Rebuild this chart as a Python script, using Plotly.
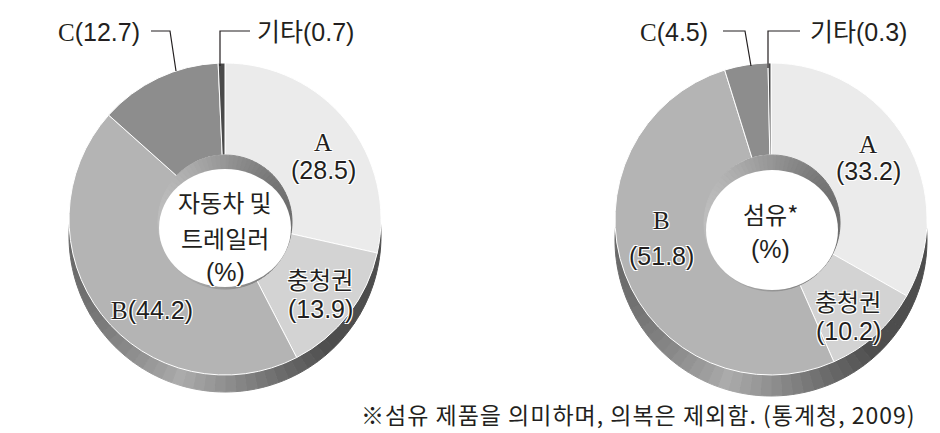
import math
import plotly.graph_objects as go

# ---------------- data ----------------
categories = ["A", "충청권", "B", "C", "기타"]
auto_values = [28.5, 13.9, 44.2, 12.7, 0.7]      # 자동차 및 트레일러
fiber_values = [33.2, 10.2, 51.8, 4.5, 0.3]      # 섬유*
auto_title = ["자동차 및", "트레일러", "(%)"]
fiber_title = ["섬유*", "(%)"]
footnote = "※섬유 제품을 의미하며, 의복은 제외함. (통계청, 2009)"

slice_colors = ["#ebebeb", "#d3d3d3", "#b4b4b4", "#8d8d8d", "#4a4a4a"]

W, H = 940, 433
KFONT = "Noto Sans CJK KR"
LFONT = "Liberation Sans, Noto Sans CJK KR"
SERIF = "Liberation Serif"
INK = "#231f20"
HALO = "1px 1px 0 #fff, -1px -1px 0 #fff, 1px -1px 0 #fff, -1px 1px 0 #fff"


def dom(cx, cy, r):
    return dict(x=[(cx - r) / W, (cx + r) / W], y=[(H - cy - r) / H, (H - cy + r) / H])


def px(x, y):
    return x / W, 1 - y / H


def grad_colors(n, fn):
    cols = []
    for i in range(n):
        th = (i + 0.5) / n * 2 * math.pi
        g = int(max(0, min(255, fn(math.sin(th)))))
        cols.append(f"rgb({g},{g},{g})")
    return cols


def side_fn(s):
    return 172 - 95 * min(1.0, abs(s + 0.3))


def wall_fn(s):
    return 150 - 40 * s


NSEG = 90
side_cols = grad_colors(NSEG, side_fn)
wall_cols = grad_colors(NSEG, wall_fn)
fig = go.Figure()

charts = [
    dict(values=auto_values, cx=217, cy=211, r=156, side=17,
         wall_c=(217, 214), wall_r=67, floor=(151, 283, 161, 279)),
    dict(values=fiber_values, cx=763, cy=211, r=156, side=21,
         wall_c=(764, 215), wall_r=68, floor=(698, 830, 162, 282)),
]

shapes = []

for ch in charts:
    # 3D side (thickness), shifted down behind the face
    fig.add_trace(go.Pie(values=[1] * NSEG, sort=False, direction="clockwise",
                         marker=dict(colors=side_cols, line=dict(color=side_cols, width=1)),
                         textinfo="none", hoverinfo="skip", showlegend=False,
                         domain=dom(ch["cx"], ch["cy"] + ch["side"], ch["r"])))
    # main donut
    fig.add_trace(go.Pie(labels=categories, values=ch["values"], sort=False,
                         direction="clockwise", hole=0.41,
                         marker=dict(colors=slice_colors, line=dict(color="white", width=1)),
                         textinfo="none", hoverinfo="label+value", showlegend=False,
                         domain=dom(ch["cx"], ch["cy"], ch["r"])))
    # inner wall of the hole
    fig.add_trace(go.Pie(values=[1] * NSEG, sort=False, direction="clockwise",
                         marker=dict(colors=wall_cols, line=dict(color=wall_cols, width=1)),
                         textinfo="none", hoverinfo="skip", showlegend=False,
                         domain=dom(ch["wall_c"][0], ch["wall_c"][1], ch["wall_r"])))
    # white floor of the hole (ellipse)
    x0, x1, y0, y1 = ch["floor"]
    X0, Y0 = px(x0, y0)
    X1, Y1 = px(x1, y1)
    shapes.append(dict(type="circle", xref="paper", yref="paper", x0=X0, x1=X1, y0=Y1, y1=Y0,
                       fillcolor="white", line=dict(width=0), layer="above"))

annotations = []


def ann(text, x, y, size=25, family=LFONT, xanchor="center"):
    ax, ay = px(x, y)
    annotations.append(dict(text=text, x=ax, y=ay, xref="paper", yref="paper",
                            xanchor=xanchor, yanchor="middle", showarrow=False,
                            font=dict(family=family, size=size, color=INK, shadow=HALO)))


def serif(t):
    return f"<span style='font-family:{SERIF}'>{t}</span>"


def leader(points):
    path = ""
    for i, (x, y) in enumerate(points):
        X, Y = px(x, y)
        path += ("M" if i == 0 else "L") + f"{X},{Y} "
    shapes.append(dict(type="path", path=path.strip(), xref="paper", yref="paper",
                       line=dict(color=INK, width=1.2), layer="above"))


# ---- left chart labels ----
v = auto_values
ann(categories[0], 315, 135, family=SERIF)
ann(f"({v[0]})", 315, 162)
ann(categories[1], 312, 270, size=24, family=KFONT)
ann(f"({v[1]})", 312, 301)
ann(serif(categories[2]) + f"({v[2]})", 144, 302)
ann(serif(categories[3]) + f"({v[3]})", 91, 24)
ann(categories[4] + f"({v[4]})", 297, 24)
ann(auto_title[0], 217, 193, size=24, family=KFONT)
ann(auto_title[1], 217, 230, size=24, family=KFONT)
ann(auto_title[2], 217, 264)
leader([(143, 23), (162, 23), (168, 63)])
leader([(242, 23), (212, 23), (212, 58)])

# ---- right chart labels ----
v = fiber_values
ann(categories[0], 860, 136, family=SERIF)
ann(f"({v[0]})", 860, 163)
ann(categories[1], 840, 292, size=24, family=KFONT)
ann(f"({v[1]})", 840, 323)
ann(categories[2], 653, 212, family=SERIF)
ann(f"({v[2]})", 653, 248)
ann(serif(categories[3]) + f"({v[3]})", 666, 24)
ann(categories[4] + f"({v[4]})", 850, 24)
ann(fiber_title[0], 762, 206, size=24, family=KFONT)
ann(fiber_title[1], 762, 241)
leader([(715, 23), (737, 23), (743, 58)])
leader([(792, 23), (760, 23), (760, 60)])

# footnote
ann(f"<span style='letter-spacing:1px'>{footnote}</span>", 630, 406, size=23, family=KFONT)

fig.update_layout(width=W, height=H, margin=dict(l=0, r=0, t=0, b=0),
                  paper_bgcolor="white", plot_bgcolor="white",
                  annotations=annotations, shapes=shapes)

fig.write_html("out.html")
